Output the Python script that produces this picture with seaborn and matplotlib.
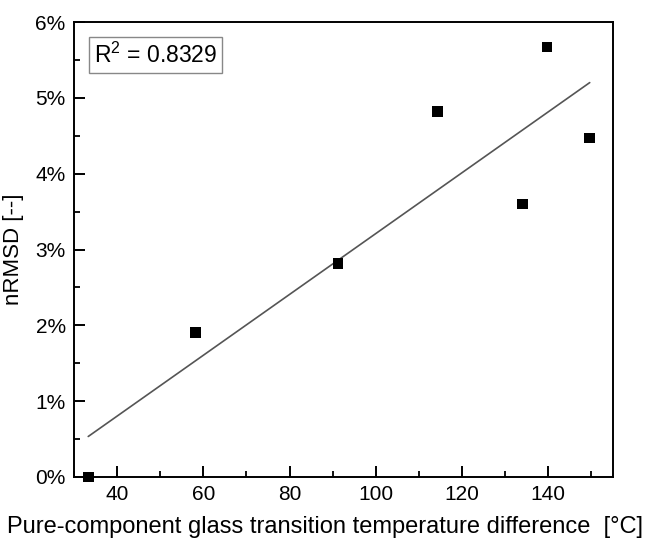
import numpy as np
import pandas as pd
import matplotlib
matplotlib.use("Agg")
import matplotlib.pyplot as plt
from matplotlib.ticker import PercentFormatter, MultipleLocator
import seaborn as sns

# values
tg_diff = [33.3, 58.2, 91.2, 114.3, 134.0, 139.7, 149.6]
nrmsd = [0.0, 1.91, 2.82, 4.82, 3.60, 5.67, 4.47]
r2_text = "R$^2$ = 0.8329"

df = pd.DataFrame({"dTg": tg_diff, "nRMSD": nrmsd})

sns.set_style("ticks")
plt.rcParams["font.family"] = ["Liberation Sans", "DejaVu Sans"]
plt.rcParams["mathtext.fontset"] = "custom"
plt.rcParams["mathtext.rm"] = "Liberation Sans"
plt.rcParams["text.color"] = "black"
plt.rcParams["axes.labelcolor"] = "black"
plt.rcParams["xtick.color"] = "black"
plt.rcParams["ytick.color"] = "black"

fig = plt.figure(figsize=(6.48, 5.41), dpi=100)
ax = fig.add_axes([0.1142, 0.1183, 0.8318, 0.841])

# linear fit line over data range
sns.regplot(data=df, x="dTg", y="nRMSD", ax=ax, scatter=False, ci=None,
            truncate=True, line_kws={"color": "#555555", "lw": 1.2})
sns.scatterplot(data=df, x="dTg", y="nRMSD", ax=ax, marker="s", s=60,
                color="black", edgecolor="none", zorder=3, clip_on=False)

ax.set_xlim(30, 155)
ax.set_ylim(0, 6)
ax.xaxis.set_major_locator(MultipleLocator(20))
ax.xaxis.set_minor_locator(MultipleLocator(10))
ax.yaxis.set_major_locator(MultipleLocator(1))
ax.yaxis.set_minor_locator(MultipleLocator(0.5))
ax.yaxis.set_major_formatter(PercentFormatter(xmax=100, decimals=0))

ax.tick_params(axis="both", which="major", direction="in", length=8, width=1.4,
               labelsize=15, pad=6, top=False, right=False, colors="black")
ax.tick_params(axis="both", which="minor", direction="in", length=4, width=1.3,
               top=False, right=False, colors="black")
for sp in ax.spines.values():
    sp.set_linewidth(1.4)
    sp.set_color("black")

ax.set_xlabel("Pure-component glass transition temperature difference  [°C]",
              fontsize=17)
ax.set_ylabel("nRMSD [--]", fontsize=16)
ax.xaxis.set_label_coords(0.466, -0.085)
ax.yaxis.set_label_coords(-0.092, 0.5)

ax.text(0.037, 0.955, r2_text, transform=ax.transAxes, fontsize=16.5,
        va="top", ha="left",
        bbox=dict(boxstyle="square,pad=0.22", fc="white", ec="#888888", lw=1))

fig.savefig("out.png", dpi=100)
